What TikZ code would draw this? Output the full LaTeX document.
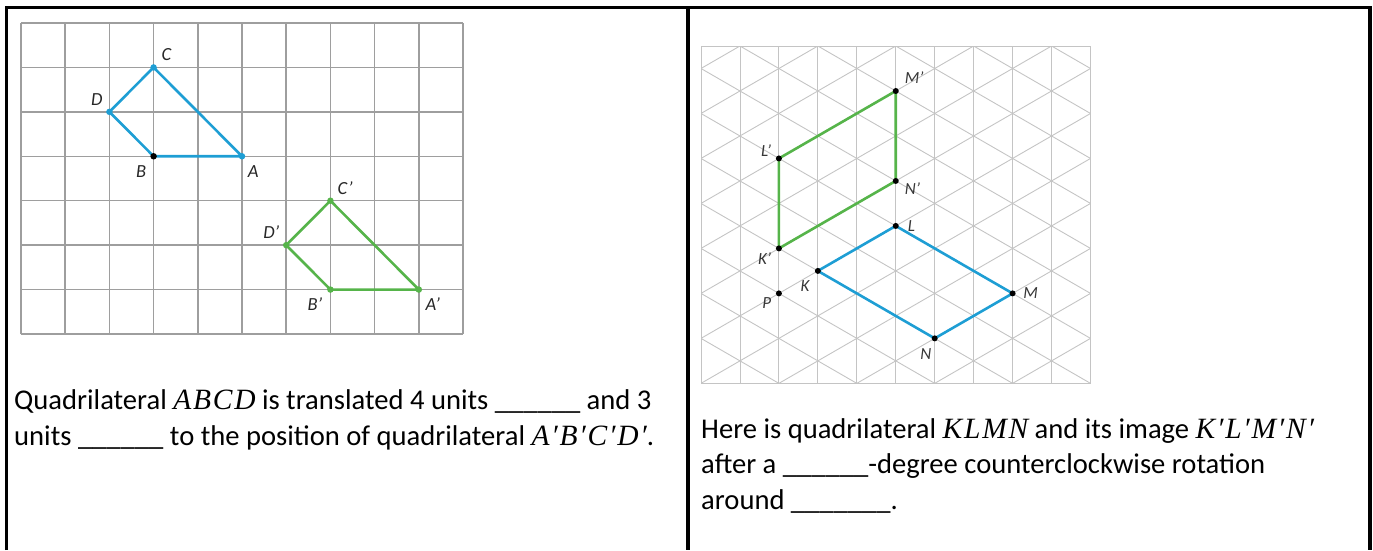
\documentclass[tikz,border=0pt]{standalone}
\usepackage{fontspec}
\setmainfont{Carlito}
\newfontfamily\mathserif{Liberation Serif}[Scale=1.03, LetterSpace=6]
\usetikzlibrary{positioning}

\definecolor{figblue}{RGB}{30,158,212}
\definecolor{figgreen}{RGB}{86,180,74}
\definecolor{sqgray}{RGB}{158,158,158}
\definecolor{isogray}{RGB}{196,196,196}
\definecolor{lblgray}{RGB}{55,55,55}

\newcommand{\mv}[1]{{\mathserif\itshape #1}}

\begin{document}
\begin{tikzpicture}[
    x=1pt, y=-1pt,
    cellframe/.style={line width=3.2pt},
    sqgrid/.style={sqgray, line width=1.5pt},
    isogrid/.style={isogray, line width=0.9pt},
    poly/.style={#1, line width=2.6pt, line join=round},
    vdot/.style={circle, fill=#1, inner sep=0pt, minimum size=6.5pt},
    sqlabel/.style={font=\fontsize{18.5}{18.5}\selectfont\itshape, text=lblgray!70!black, inner sep=1.5pt},
    isolabel/.style={font=\fontsize{17}{17}\selectfont\itshape, text=lblgray, inner sep=1.5pt},
    prose/.style={font=\fontsize{28.6}{35.2}\selectfont, align=left, inner sep=0pt, anchor=base west}
]
\useasboundingbox (0,0) rectangle (1373,550);

% table cells
\draw[cellframe] (6.8,550) -- (6.8,7.2) -- (1370,7.2) -- (1370,550);
\draw[cellframe] (688,7.2) -- (688,550);

% translation on the square grid
\begin{scope}[shift={(21,334)}, x=44.2pt, y=44.43pt]
  \foreach \i in {0,...,10}
    \draw[sqgrid] (\i,0) -- (\i,7);
  \foreach \j in {0,...,7}
    \draw[sqgrid] (0,\j) -- (10,\j);
  \coordinate (A) at (5,4);
  \coordinate (B) at (3,4);
  \coordinate (C) at (3,6);
  \coordinate (D) at (2,5);
  \coordinate (A1) at (9,1);
  \coordinate (B1) at (7,1);
  \coordinate (C1) at (7,3);
  \coordinate (D1) at (6,2);
  \draw[poly=figblue] (B) -- (A) -- (C) -- (D) -- cycle;
  \draw[poly=figgreen] (B1) -- (A1) -- (C1) -- (D1) -- cycle;
  \foreach \p in {A,C,D}
    \node[vdot=figblue] (dot\p) at (\p) {};
  \node[vdot=black] (dotB) at (B) {};
  \foreach \p in {A1,B1,C1,D1}
    \node[vdot=figgreen] (dot\p) at (\p) {};
\end{scope}

\node[sqlabel, below right=7.5pt and 4.1pt of A] (labA) {A};
\node[sqlabel, below left=7.5pt and 5.8pt of B] (labB) {B};
\node[sqlabel, above right=4.8pt and 6.2pt of C] (labC) {C};
\node[sqlabel, above left=4.5pt and 5.1pt of D] (labD) {D};
\node[sqlabel, below right=6.1pt and 5.2pt of A1] (labA1) {A'};
\node[sqlabel, below left=6.1pt and 6.5pt of B1] (labB1) {B'};
\node[sqlabel, above right=4.8pt and 5.5pt of C1] (labC1) {C'};
\node[sqlabel, above left=5.2pt and 5.2pt of D1] (labD1) {D'};

% rotation on the isometric grid
\begin{scope}[shift={(701,46)}, x=38.95pt, y=-22.49pt]
  \begin{scope}
    \clip (0,0) rectangle (10,15);
    \foreach \k in {-9,-7,...,13}
      \draw[isogrid] (-1,\k-1) -- (17,\k+17);
    \foreach \k in {1,3,...,23}
      \draw[isogrid] (-1,\k+1) -- (\k+1,-1);
  \end{scope}
  \foreach \c in {0,...,10}
    \draw[isogrid] (\c,0) -- (\c,15);
  \draw[isogrid] (0,0) rectangle (10,15);
  \coordinate (K) at (3,10);
  \coordinate (L) at (5,8);
  \coordinate (M) at (8,11);
  \coordinate (N) at (6,13);
  \coordinate (K1) at (2,9);
  \coordinate (L1) at (2,5);
  \coordinate (M1) at (5,2);
  \coordinate (N1) at (5,6);
  \coordinate (P) at (2,11);
  \draw[poly=figblue] (K) -- (L) -- (M) -- (N) -- cycle;
  \draw[poly=figgreen] (K1) -- (L1) -- (M1) -- (N1) -- cycle;
  \foreach \p in {K,L,M,N,K1,L1,M1,N1,P}
    \node[vdot=black, minimum size=6pt] (dot\p) at (\p) {};
\end{scope}

\node[isolabel, below left=7.5pt and 6.8pt of K] (labK) {K};
\node[isolabel, right=10.5pt of L] (labL) {L};
\node[isolabel, right=9pt of M] (labM) {M};
\node[isolabel, below left=8.2pt and 1.8pt of N] (labN) {N};
\node[isolabel, below left=2.5pt and 6pt of K1] (labK1) {K'};
\node[isolabel, above left=0pt and 6pt of L1] (labL1) {L'};
\node[isolabel, above right=5.5pt and 7.5pt of M1] (labM1) {M'};
\node[isolabel, below right=0pt and 7.5pt of N1] (labN1) {N'};
\node[isolabel, below left=2.5pt and 6pt of P] (labP) {P};

% questions
\node[prose] (leftq) at (14,445) {Quadrilateral \mv{ABCD} is translated 4 units \_\_\_\_\_\_ and 3\\units \_\_\_\_\_\_ to the position of quadrilateral \mv{A′B′C′D′}.};
\node[prose] (rightq) at (701,509) {Here is quadrilateral \mv{KLMN} and its image \mv{K′L′M′N′}\\after a \_\_\_\_\_\_-degree counterclockwise rotation\\around \_\_\_\_\_\_\_.};
\end{tikzpicture}
\end{document}
